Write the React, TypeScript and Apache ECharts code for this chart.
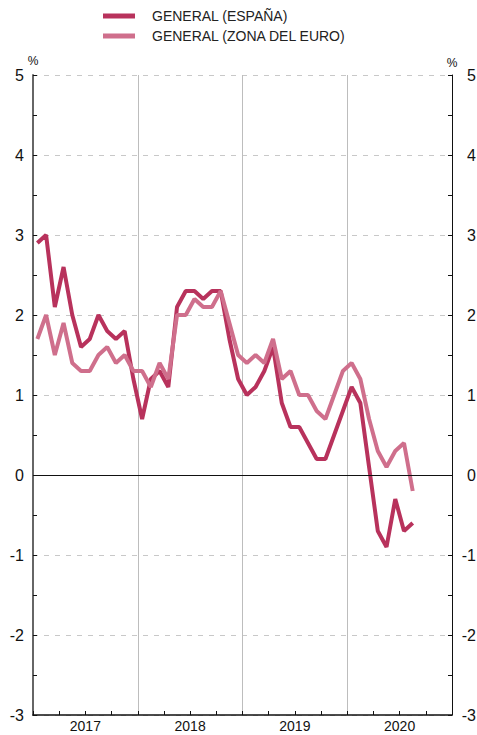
import React, { useEffect, useRef } from "react";
import * as echarts from "echarts";

const years = ["2017", "2018", "2019", "2020"];
const months = ["01", "02", "03", "04", "05", "06", "07", "08", "09", "10", "11", "12"];
const categories: string[] = years.flatMap((y) => months.map((m) => `${y}-${m}`));

const spain = [
  2.9, 3.0, 2.1, 2.6, 2.0, 1.6, 1.7, 2.0, 1.8, 1.7, 1.8, 1.2,
  0.7, 1.2, 1.3, 1.1, 2.1, 2.3, 2.3, 2.2, 2.3, 2.3, 1.7, 1.2,
  1.0, 1.1, 1.3, 1.6, 0.9, 0.6, 0.6, 0.4, 0.2, 0.2, 0.5, 0.8,
  1.1, 0.9, 0.1, -0.7, -0.9, -0.3, -0.7, -0.6,
];
const euro = [
  1.7, 2.0, 1.5, 1.9, 1.4, 1.3, 1.3, 1.5, 1.6, 1.4, 1.5, 1.3,
  1.3, 1.1, 1.4, 1.2, 2.0, 2.0, 2.2, 2.1, 2.1, 2.3, 1.9, 1.5,
  1.4, 1.5, 1.4, 1.7, 1.2, 1.3, 1.0, 1.0, 0.8, 0.7, 1.0, 1.3,
  1.4, 1.2, 0.7, 0.3, 0.1, 0.3, 0.4, -0.2,
];
const seriesNames = ["GENERAL (ESPAÑA)", "GENERAL (ZONA DEL EURO)"];
const yTicks = { min: -3, max: 5, interval: 1 };

const FONT = "Liberation Sans, Arial, sans-serif";
const C_SPAIN = "#b8325c";
const C_EURO = "#cf6f8c";

export default function App() {
  const ref = useRef<HTMLDivElement>(null);
  useEffect(() => {
    if (!ref.current) return;
    const chart = echarts.init(ref.current, null, { renderer: "svg" });
    const yAxisBase = (pos: "left" | "right") => ({
      type: "value",
      position: pos,
      min: yTicks.min,
      max: yTicks.max,
      interval: yTicks.interval,
      name: "%",
      nameLocation: "end",
      nameGap: 6,
      nameTextStyle: { fontFamily: FONT, fontSize: 12, color: "#111", align: "center" },
      axisLine: {
        show: true,
        lineStyle: pos === "left" ? { color: "#666", width: 2 } : { color: "#111", width: 1 },
      },
      axisTick: { show: true, inside: true, length: 4, lineStyle: { color: "#111" } },
      minorTick: { show: true, splitNumber: 2, length: 4, lineStyle: { color: "#111" } },
      axisLabel: {
        fontFamily: FONT,
        fontSize: 16,
        color: "#111",
        align: "right",
        margin: pos === "left" ? 9 : 24,
      },
      splitLine:
        pos === "left"
          ? { show: true, lineStyle: { color: "#c8c8c8", type: [5, 6], width: 1 } }
          : { show: false },
    });
    chart.setOption({
      animation: false,
      grid: {
        left: 33,
        right: 25,
        top: 75,
        bottom: 20,
        containLabel: false,
        outerBoundsMode: "none",
      },
      legend: {
        orient: "vertical",
        left: 98,
        top: 4,
        itemWidth: 32,
        itemHeight: 5,
        itemGap: 6,
        icon: "rect",
        data: seriesNames,
        textStyle: { fontFamily: FONT, fontSize: 14, color: "#222", padding: [0, 0, 0, 12] },
      },
      xAxis: [
        {
          type: "category",
          data: categories,
          boundaryGap: true,
          position: "bottom",
          axisLine: { show: true, onZero: false, lineStyle: { color: "#111", width: 1.5 } },
          axisTick: {
            show: true,
            inside: true,
            length: 4,
            interval: (i: number) => i % 3 === 0,
            lineStyle: { color: "#111" },
          },
          axisLabel: { show: false },
          splitLine: {
            show: true,
            interval: (i: number) => i % 12 === 0 && i > 0,
            lineStyle: { color: "#bdbdbd", width: 1 },
          },
        },
        {
          type: "category",
          data: years,
          boundaryGap: true,
          position: "bottom",
          axisLine: { show: false },
          axisTick: { show: false },
          splitLine: { show: false },
          axisLabel: { fontFamily: FONT, fontSize: 14, color: "#111", margin: 4 },
        },
      ],
      yAxis: [yAxisBase("left"), yAxisBase("right")],
      series: [
        {
          name: seriesNames[0],
          type: "line",
          data: spain,
          xAxisIndex: 0,
          yAxisIndex: 0,
          showSymbol: false,
          symbol: "none",
          color: C_SPAIN,
          lineStyle: { color: C_SPAIN, width: 4 },
          markLine: {
            silent: true,
            symbol: "none",
            label: { show: false },
            lineStyle: { color: "#111", width: 1, type: "solid" },
            data: [{ yAxis: 0 }],
          },
          z: 3,
        },
        {
          name: seriesNames[1],
          type: "line",
          data: euro,
          xAxisIndex: 0,
          yAxisIndex: 0,
          showSymbol: false,
          symbol: "none",
          color: C_EURO,
          lineStyle: { color: C_EURO, width: 4 },
          z: 4,
        },
      ],
    });
    return () => chart.dispose();
  }, []);
  return (
    <div
      ref={ref}
      style={{ position: "fixed", left: 0, top: 0, width: 477, height: 735, background: "#fff" }}
    />
  );
}
